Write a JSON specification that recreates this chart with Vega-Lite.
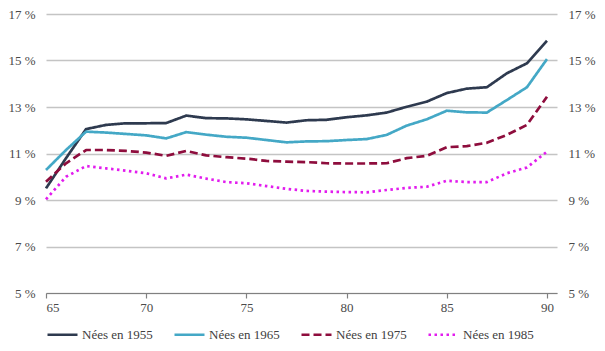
{
  "$schema": "https://vega.github.io/schema/vega-lite/v6.json",
  "width": 511,
  "height": 279,
  "autosize": {"type": "none"},
  "padding": {"left": 46, "top": 14, "right": 48, "bottom": 58},
  "background": "white",
  "config": {"view": {"stroke": null}},
  "data": {"values": [
    {"a":65,"c":"Nées en 1955","v":9.5},{"a":66,"c":"Nées en 1955","v":10.8},{"a":67,"c":"Nées en 1955","v":12.05},{"a":68,"c":"Nées en 1955","v":12.23},{"a":69,"c":"Nées en 1955","v":12.3},{"a":70,"c":"Nées en 1955","v":12.3},{"a":71,"c":"Nées en 1955","v":12.31},{"a":72,"c":"Nées en 1955","v":12.63},{"a":73,"c":"Nées en 1955","v":12.52},{"a":74,"c":"Nées en 1955","v":12.51},{"a":75,"c":"Nées en 1955","v":12.47},{"a":76,"c":"Nées en 1955","v":12.4},{"a":77,"c":"Nées en 1955","v":12.33},{"a":78,"c":"Nées en 1955","v":12.43},{"a":79,"c":"Nées en 1955","v":12.45},{"a":80,"c":"Nées en 1955","v":12.56},{"a":81,"c":"Nées en 1955","v":12.64},{"a":82,"c":"Nées en 1955","v":12.76},{"a":83,"c":"Nées en 1955","v":13.01},{"a":84,"c":"Nées en 1955","v":13.23},{"a":85,"c":"Nées en 1955","v":13.6},{"a":86,"c":"Nées en 1955","v":13.79},{"a":87,"c":"Nées en 1955","v":13.85},{"a":88,"c":"Nées en 1955","v":14.45},{"a":89,"c":"Nées en 1955","v":14.88},{"a":90,"c":"Nées en 1955","v":15.85},
    {"a":65,"c":"Nées en 1965","v":10.29},{"a":66,"c":"Nées en 1965","v":11.15},{"a":67,"c":"Nées en 1965","v":11.94},{"a":68,"c":"Nées en 1965","v":11.9},{"a":69,"c":"Nées en 1965","v":11.84},{"a":70,"c":"Nées en 1965","v":11.78},{"a":71,"c":"Nées en 1965","v":11.65},{"a":72,"c":"Nées en 1965","v":11.92},{"a":73,"c":"Nées en 1965","v":11.81},{"a":74,"c":"Nées en 1965","v":11.72},{"a":75,"c":"Nées en 1965","v":11.68},{"a":76,"c":"Nées en 1965","v":11.58},{"a":77,"c":"Nées en 1965","v":11.48},{"a":78,"c":"Nées en 1965","v":11.52},{"a":79,"c":"Nées en 1965","v":11.53},{"a":80,"c":"Nées en 1965","v":11.58},{"a":81,"c":"Nées en 1965","v":11.62},{"a":82,"c":"Nées en 1965","v":11.8},{"a":83,"c":"Nées en 1965","v":12.2},{"a":84,"c":"Nées en 1965","v":12.47},{"a":85,"c":"Nées en 1965","v":12.84},{"a":86,"c":"Nées en 1965","v":12.77},{"a":87,"c":"Nées en 1965","v":12.76},{"a":88,"c":"Nées en 1965","v":13.3},{"a":89,"c":"Nées en 1965","v":13.85},{"a":90,"c":"Nées en 1965","v":15.06},
    {"a":65,"c":"Nées en 1975","v":9.79},{"a":66,"c":"Nées en 1975","v":10.58},{"a":67,"c":"Nées en 1975","v":11.15},{"a":68,"c":"Nées en 1975","v":11.15},{"a":69,"c":"Nées en 1975","v":11.11},{"a":70,"c":"Nées en 1975","v":11.04},{"a":71,"c":"Nées en 1975","v":10.9},{"a":72,"c":"Nées en 1975","v":11.11},{"a":73,"c":"Nées en 1975","v":10.92},{"a":74,"c":"Nées en 1975","v":10.84},{"a":75,"c":"Nées en 1975","v":10.78},{"a":76,"c":"Nées en 1975","v":10.68},{"a":77,"c":"Nées en 1975","v":10.65},{"a":78,"c":"Nées en 1975","v":10.63},{"a":79,"c":"Nées en 1975","v":10.58},{"a":80,"c":"Nées en 1975","v":10.57},{"a":81,"c":"Nées en 1975","v":10.57},{"a":82,"c":"Nées en 1975","v":10.58},{"a":83,"c":"Nées en 1975","v":10.8},{"a":84,"c":"Nées en 1975","v":10.9},{"a":85,"c":"Nées en 1975","v":11.27},{"a":86,"c":"Nées en 1975","v":11.32},{"a":87,"c":"Nées en 1975","v":11.46},{"a":88,"c":"Nées en 1975","v":11.8},{"a":89,"c":"Nées en 1975","v":12.23},{"a":90,"c":"Nées en 1975","v":13.44},
    {"a":65,"c":"Nées en 1985","v":9.03},{"a":66,"c":"Nées en 1985","v":10.0},{"a":67,"c":"Nées en 1985","v":10.46},{"a":68,"c":"Nées en 1985","v":10.36},{"a":69,"c":"Nées en 1985","v":10.26},{"a":70,"c":"Nées en 1985","v":10.15},{"a":71,"c":"Nées en 1985","v":9.93},{"a":72,"c":"Nées en 1985","v":10.09},{"a":73,"c":"Nées en 1985","v":9.92},{"a":74,"c":"Nées en 1985","v":9.77},{"a":75,"c":"Nées en 1985","v":9.72},{"a":76,"c":"Nées en 1985","v":9.6},{"a":77,"c":"Nées en 1985","v":9.48},{"a":78,"c":"Nées en 1985","v":9.39},{"a":79,"c":"Nées en 1985","v":9.36},{"a":80,"c":"Nées en 1985","v":9.34},{"a":81,"c":"Nées en 1985","v":9.33},{"a":82,"c":"Nées en 1985","v":9.43},{"a":83,"c":"Nées en 1985","v":9.52},{"a":84,"c":"Nées en 1985","v":9.57},{"a":85,"c":"Nées en 1985","v":9.83},{"a":86,"c":"Nées en 1985","v":9.77},{"a":87,"c":"Nées en 1985","v":9.77},{"a":88,"c":"Nées en 1985","v":10.15},{"a":89,"c":"Nées en 1985","v":10.4},{"a":90,"c":"Nées en 1985","v":11.08}
  ]},
  "layer": [
    {
      "mark": {"type": "line", "strokeWidth": 2.7, "strokeCap": "butt", "strokeJoin": "round"},
      "encoding": {
        "x": {"field": "a", "type": "quantitative",
          "scale": {"domain": [65, 90.5], "nice": false, "zero": false},
          "axis": {"values": [65, 70, 75, 80, 85, 90], "title": null, "grid": false,
            "domainColor": "#808080", "domainWidth": 1.2, "tickColor": "#808080", "tickSize": 5, "tickWidth": 1.2,
            "labelFont": "Liberation Serif", "labelFontSize": 13, "labelColor": "#4a4a4a", "labelPadding": 3}},
        "y": {"field": "v", "type": "quantitative",
          "scale": {"domain": [5, 17], "nice": false, "zero": false},
          "axis": {"orient": "left", "values": [5, 7, 9, 11, 13, 15, 17], "labelExpr": "datum.value + ' %'",
            "title": null, "domain": false, "ticks": false, "grid": true, "gridColor": "#c4c4c4", "gridWidth": 1.5,
            "labelFont": "Liberation Serif", "labelFontSize": 13, "labelColor": "#4a4a4a", "labelPadding": 11}},
        "color": {"field": "c", "type": "nominal",
          "scale": {"domain": ["Nées en 1955", "Nées en 1965", "Nées en 1975", "Nées en 1985"],
            "range": ["#2E3A4F", "#44A8C6", "#8E0D3D", "#E21CEE"]},
          "legend": {"title": null, "orient": "bottom", "direction": "horizontal", "symbolType": "stroke",
            "symbolSize": 900, "symbolStrokeWidth": 2.7, "labelFont": "Liberation Serif", "labelFontSize": 13, "labelColor": "#404040",
            "columnPadding": 16, "labelOffset": 3, "offset": 4, "gridAlign": "all"}},
        "strokeDash": {"field": "c", "type": "nominal",
          "scale": {"domain": ["Nées en 1955", "Nées en 1965", "Nées en 1975", "Nées en 1985"],
            "range": [[1, 0], [1, 0], [8, 4], [2.5, 3.5]]},
          "legend": {"title": null, "orient": "bottom", "direction": "horizontal", "symbolType": "stroke",
            "symbolSize": 900, "symbolStrokeWidth": 2.7, "labelFont": "Liberation Serif", "labelFontSize": 13, "labelColor": "#404040",
            "columnPadding": 16, "labelOffset": 3, "offset": 4, "gridAlign": "all"}}
      }
    },
    {
      "mark": {"type": "line", "opacity": 0},
      "encoding": {
        "x": {"field": "a", "type": "quantitative"},
        "y": {"field": "v", "type": "quantitative",
          "axis": {"orient": "right", "values": [5, 7, 9, 11, 13, 15, 17], "labelExpr": "datum.value + ' %'",
            "title": null, "domain": false, "ticks": false, "grid": false,
            "labelFont": "Liberation Serif", "labelFontSize": 13, "labelColor": "#4a4a4a", "labelPadding": 11}},
        "detail": {"field": "c", "type": "nominal"}
      }
    }
  ],
  "resolve": {"axis": {"y": "independent"}}
}
